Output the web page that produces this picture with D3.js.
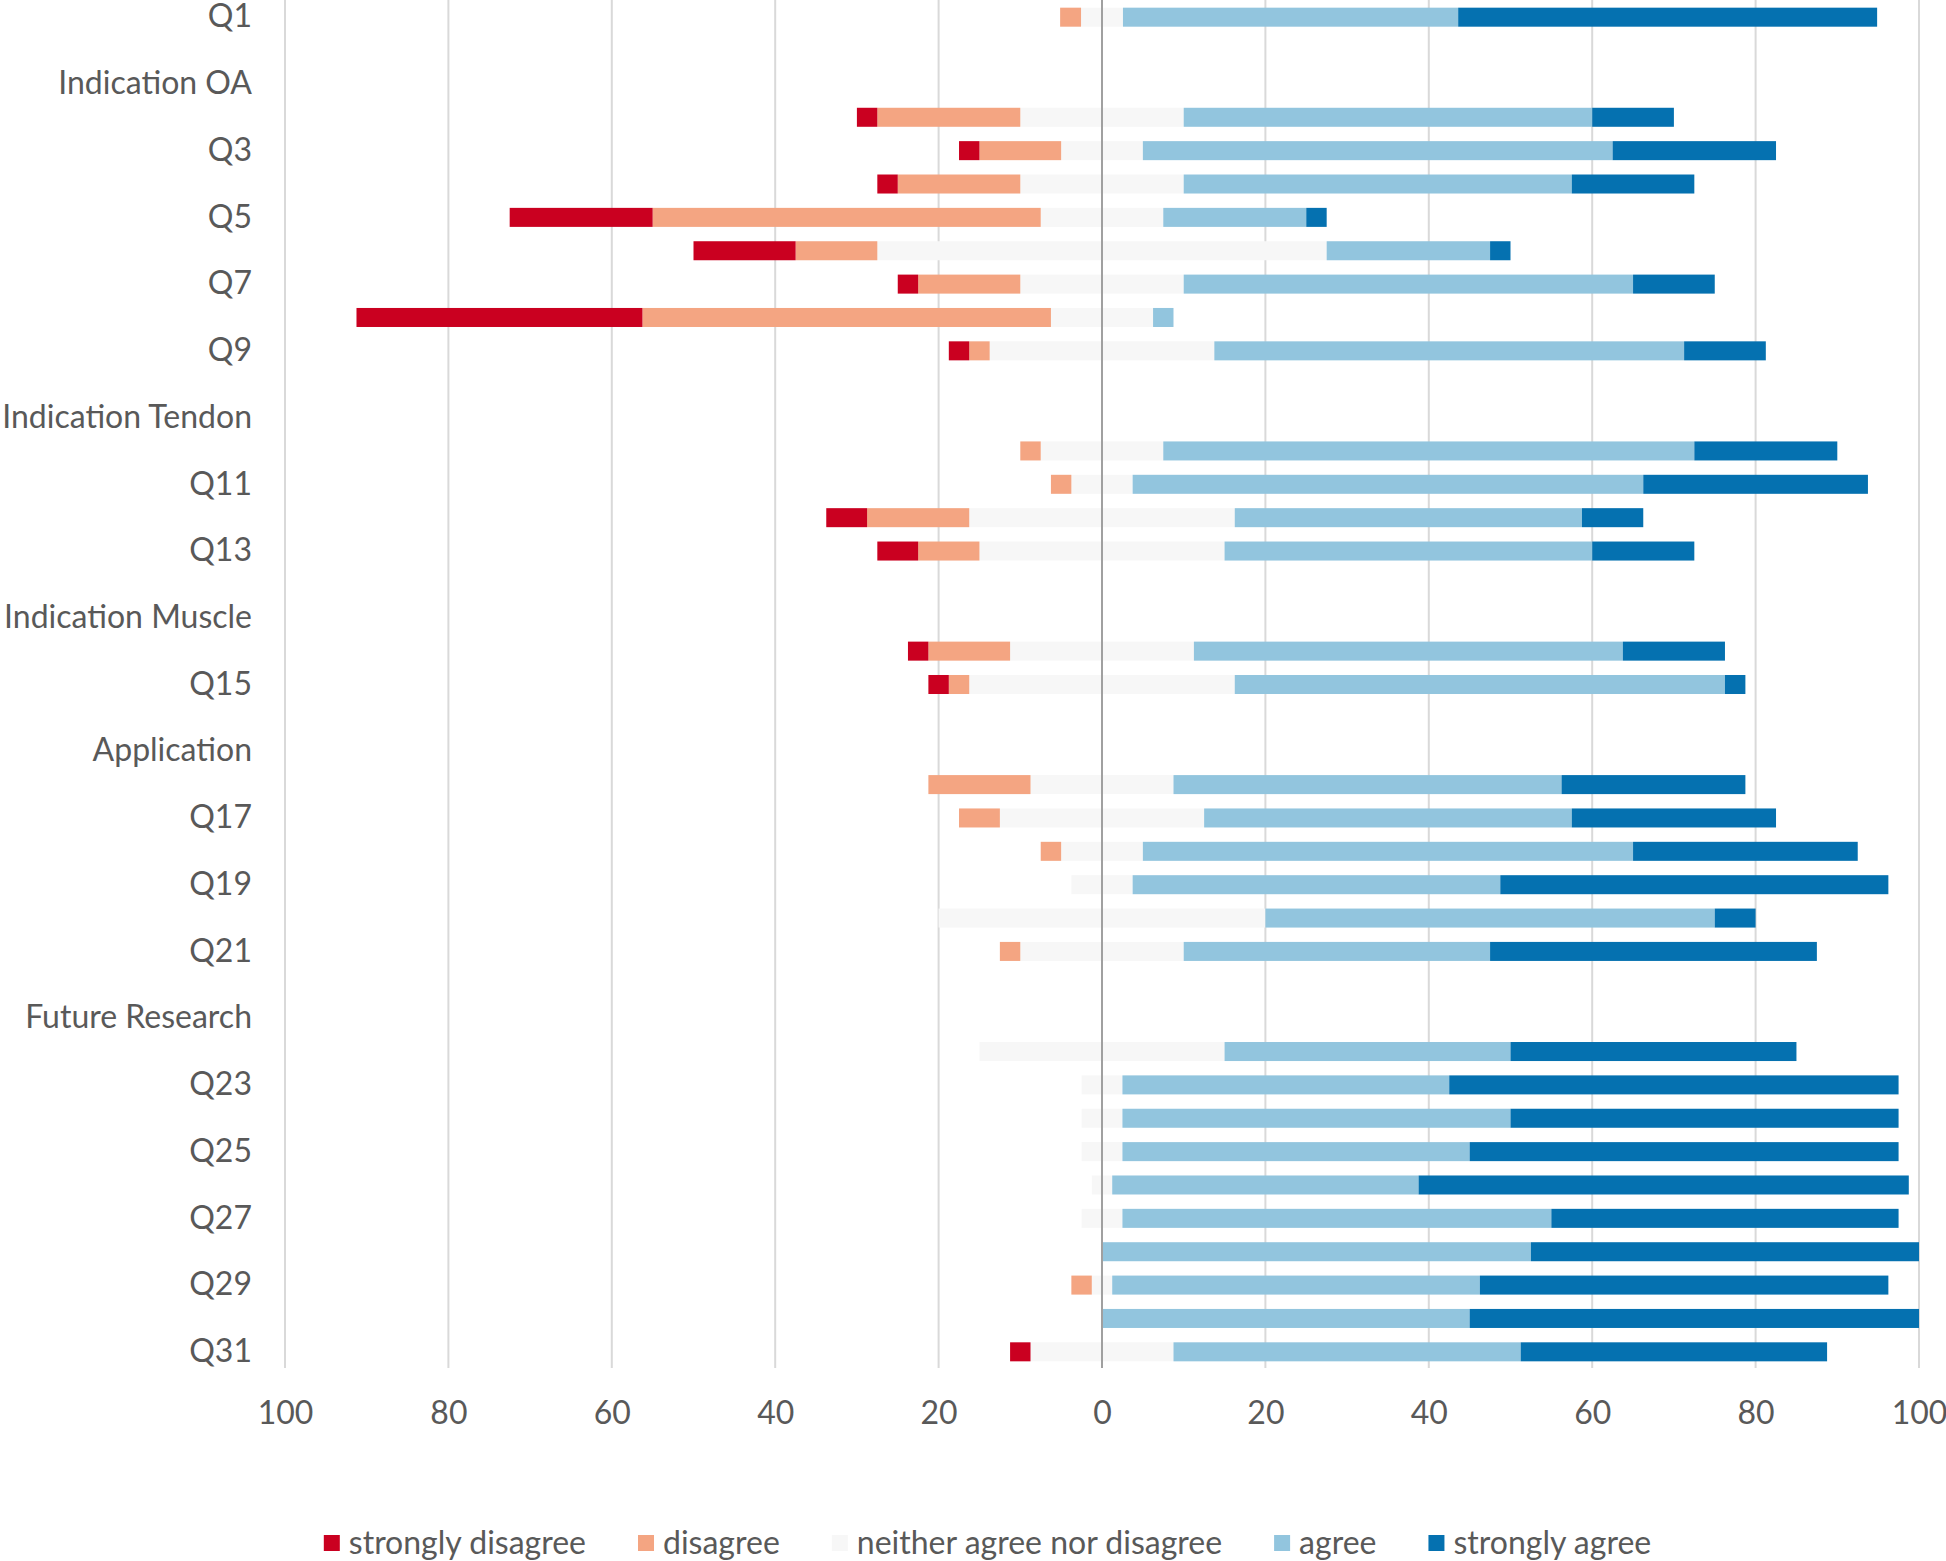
<!DOCTYPE html>
<html>
<head>
<meta charset="utf-8">
<script src="https://cdn.jsdelivr.net/npm/d3@7"></script>
<style>
  html, body { margin: 0; padding: 0; background: #ffffff; }
  svg { display: block; }
  text { font-family: Lato, "Open Sans", sans-serif; fill: #595959; }
</style>
</head>
<body>
<svg id="chart" width="1946" height="1561"></svg>
<script>
// ---- data ----
const categories = [
  "Q1", "", "Indication OA", "Q2", "Q3", "Q4", "Q5", "Q6", "Q7", "Q8", "Q9",
  "", "Indication Tendon", "Q10", "Q11", "Q12", "Q13",
  "", "Indication Muscle", "Q14", "Q15",
  "", "Application", "Q16", "Q17", "Q18", "Q19", "Q20", "Q21",
  "", "Future Research", "Q22", "Q23", "Q24", "Q25", "Q26", "Q27", "Q28", "Q29", "Q30", "Q31"
];
const stronglyDisagree = [
  0, 0, 0, 2.5, 2.5, 2.5, 17.5, 12.5, 2.5, 35, 2.5,
  0, 0, 0, 0, 5, 5,
  0, 0, 2.5, 2.5,
  0, 0, 0, 0, 0, 0, 0, 0,
  0, 0, 0, 0, 0, 0, 0, 0, 0, 0, 0, 2.5
];
const disagree = [
  2.56, 0, 0, 17.5, 10, 15, 47.5, 10, 12.5, 50, 2.5,
  0, 0, 2.5, 2.5, 12.5, 7.5,
  0, 0, 10, 2.5,
  0, 0, 12.5, 5, 2.5, 0, 0, 2.5,
  0, 0, 0, 0, 0, 0, 0, 0, 0, 2.5, 0, 0
];
const neutral = [
  5.13, 0, 0, 20, 10, 20, 15, 55, 20, 12.5, 27.5,
  0, 0, 15, 7.5, 32.5, 30,
  0, 0, 22.5, 32.5,
  0, 0, 17.5, 25, 10, 7.5, 40, 20,
  0, 0, 30, 5, 5, 5, 2.5, 5, 0, 2.5, 0, 17.5
];
const agree = [
  41.03, 0, 0, 50, 57.5, 47.5, 17.5, 20, 55, 2.5, 57.5,
  0, 0, 65, 62.5, 42.5, 45,
  0, 0, 52.5, 60,
  0, 0, 47.5, 45, 60, 45, 55, 37.5,
  0, 0, 35, 40, 47.5, 42.5, 37.5, 52.5, 52.5, 45, 45, 42.5
];
const stronglyAgree = [
  51.28, 0, 0, 10, 20, 15, 2.5, 2.5, 10, 0, 10,
  0, 0, 17.5, 27.5, 7.5, 12.5,
  0, 0, 12.5, 2.5,
  0, 0, 22.5, 25, 27.5, 47.5, 5, 40,
  0, 0, 35, 55, 47.5, 52.5, 60, 42.5, 47.5, 50, 55, 37.5
];
const seriesNames = ["strongly disagree", "disagree", "neither agree nor disagree", "agree", "strongly agree"];
const seriesColors = ["#ca0020", "#f4a582", "#f7f7f7", "#92c5de", "#0571b0"];
const xTicks = [-100, -80, -60, -40, -20, 0, 20, 40, 60, 80, 100];

// ---- layout ----
const svg = d3.select("#chart");
const plotLeft = 285, plotRight = 1919, plotTop = 1, plotBottom = 1368;
const fontSize = 32;

const x = d3.scaleLinear().domain([-100, 100]).range([plotLeft, plotRight]);
const y = d3.scaleBand()
  .domain(d3.range(categories.length))
  .range([plotTop, plotBottom])
  .paddingInner(0.43)
  .paddingOuter(0.2);

// gridlines
svg.append("g")
  .selectAll("line")
  .data(xTicks.filter(d => d !== 0))
  .join("line")
  .attr("x1", d => x(d)).attr("x2", d => x(d))
  .attr("y1", 0).attr("y2", plotBottom)
  .attr("stroke", "#d9d9d9")
  .attr("stroke-width", 2);

// build segments
const segs = [];
categories.forEach((c, i) => {
  const sd = stronglyDisagree[i], di = disagree[i], ne = neutral[i], ag = agree[i], sa = stronglyAgree[i];
  const half = ne / 2;
  if (ne > 0) segs.push({ i, s: 2, x0: -half, x1: 0 });
  if (di > 0) segs.push({ i, s: 1, x0: -half - di, x1: -half });
  if (sd > 0) segs.push({ i, s: 0, x0: -half - di - sd, x1: -half - di });
  if (ne > 0) segs.push({ i, s: 2, x0: 0, x1: half });
  if (ag > 0) segs.push({ i, s: 3, x0: half, x1: half + ag });
  if (sa > 0) segs.push({ i, s: 4, x0: half + ag, x1: half + ag + sa });
});

svg.append("g")
  .selectAll("rect")
  .data(segs)
  .join("rect")
  .attr("x", d => x(d.x0))
  .attr("width", d => x(d.x1) - x(d.x0))
  .attr("y", d => y(d.i))
  .attr("height", y.bandwidth())
  .attr("fill", d => seriesColors[d.s]);

// zero axis line
svg.append("line")
  .attr("x1", x(0)).attr("x2", x(0))
  .attr("y1", 0).attr("y2", plotBottom)
  .attr("stroke", "#a0a0a0")
  .attr("stroke-width", 2);

// y axis labels (every other category, as in the original)
const yAxis = svg.append("g")
  .attr("transform", `translate(${plotLeft},0)`)
  .call(d3.axisLeft(y)
    .tickSize(0)
    .tickPadding(33)
    .tickFormat(i => (i % 2 === 0 ? categories[i] : "")));
yAxis.select(".domain").remove();
yAxis.selectAll("text")
  .style("font-size", fontSize + "px")
  .style("font-family", "Lato, 'Open Sans', sans-serif")
  .attr("fill", "#595959");

// x axis labels
const xAxis = svg.append("g")
  .attr("transform", `translate(0,${plotBottom})`)
  .call(d3.axisBottom(x)
    .tickValues(xTicks)
    .tickSize(0)
    .tickPadding(33)
    .tickFormat(d => Math.abs(d)));
xAxis.select(".domain").remove();
xAxis.selectAll("text")
  .style("font-size", fontSize + "px")
  .style("font-family", "Lato, 'Open Sans', sans-serif")
  .attr("fill", "#595959");

// legend
const legendY = 1543;
const sw = 16, swGap = 9, itemGap = 52;
const legend = svg.append("g");
const items = legend.selectAll("g")
  .data(seriesNames)
  .join("g");
items.append("rect")
  .attr("width", sw).attr("height", sw)
  .attr("y", legendY - sw / 2)
  .attr("fill", (d, i) => seriesColors[i]);
items.append("text")
  .attr("x", sw + swGap)
  .attr("y", legendY)
  .attr("dy", "0.35em")
  .style("font-size", fontSize + "px")
  .text(d => d);
const widths = [];
items.each(function () {
  widths.push(sw + swGap + this.querySelector("text").getComputedTextLength());
});
const total = d3.sum(widths) + itemGap * (widths.length - 1);
let start = 987.5 - total / 2;
items.attr("transform", (d, i) => {
  const tx = start;
  start += widths[i] + itemGap;
  return `translate(${tx},0)`;
});
</script>
</body>
</html>
